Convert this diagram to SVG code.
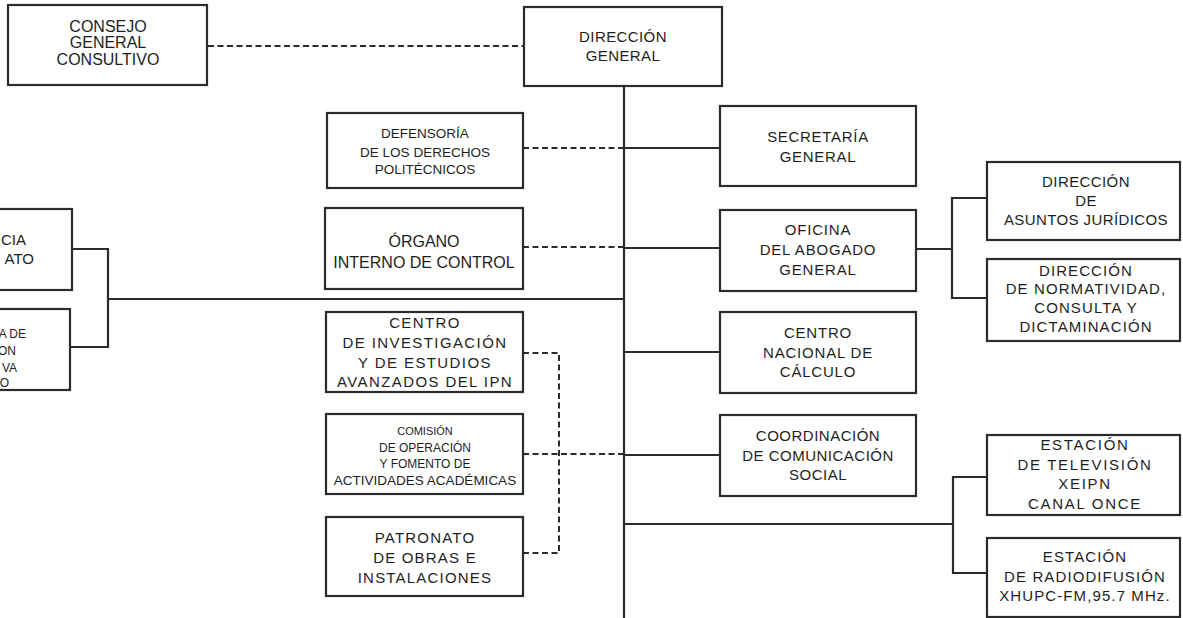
<svg xmlns="http://www.w3.org/2000/svg" width="1183" height="618" viewBox="0 0 1183 618">
<style>
.box{fill:#fff;stroke:#2b2b2b;stroke-width:2.2}
.ln{fill:none;stroke:#2b2b2b;stroke-width:2.2}
.dl{fill:none;stroke:#2b2b2b;stroke-width:2;stroke-dasharray:6 3.5}
text{font-family:"Liberation Sans",Arial,sans-serif;fill:#1e1e1e;text-anchor:middle;font-size:15px}
.s16{font-size:16px}
.s13{font-size:13.5px}
.s12{font-size:12px}
.s11{font-size:11px}
.e{text-anchor:end}
</style>
<rect width="1183" height="618" fill="#fff"/>
<g id="connectors">
  <line class="dl" x1="208" y1="46" x2="524" y2="46"/>
  <line class="ln" x1="624" y1="86" x2="624" y2="618"/>
  <polyline class="ln" points="72,249 108,249 108,347 70,347"/>
  <line class="ln" x1="108" y1="299" x2="624" y2="299"/>
  <line class="dl" x1="523" y1="148" x2="624" y2="148"/>
  <line class="ln" x1="624" y1="148" x2="720" y2="148"/>
  <line class="dl" x1="523" y1="247" x2="624" y2="247"/>
  <line class="ln" x1="624" y1="248" x2="720" y2="248"/>
  <line class="ln" x1="624" y1="352" x2="720" y2="352"/>
  <polyline class="dl" points="523,353 559,353 559,553 523,553"/>
  <line class="dl" x1="523" y1="454" x2="624" y2="454"/>
  <line class="ln" x1="624" y1="455" x2="720" y2="455"/>
  <line class="ln" x1="916" y1="249" x2="952" y2="249"/>
  <polyline class="ln" points="987,198 952,198 952,298 987,298"/>
  <line class="ln" x1="624" y1="524" x2="953" y2="524"/>
  <polyline class="ln" points="987,477 953,477 953,573 987,573"/>
</g>
<g id="consejo">
  <rect class="box" x="8" y="5" width="199" height="80"/>
  <text class="s16" x="108" y="32">CONSEJO</text>
  <text class="s16" x="108" y="48">GENERAL</text>
  <text class="s16" x="108" y="65">CONSULTIVO</text>
</g>
<g id="direccion-general">
  <rect class="box" x="524" y="7" width="198" height="79"/>
  <text x="623" y="42" style="letter-spacing:0.4px">DIRECCIÓN</text>
  <text x="623" y="61" style="letter-spacing:0.4px">GENERAL</text>
</g>
<g id="left-top">
  <rect class="box" x="-140" y="209" width="212" height="81"/>
  <text class="e" x="26" y="245">CIA</text>
  <text class="e" x="34" y="264">ATO</text>
</g>
<g id="left-bottom">
  <rect class="box" x="-140" y="309" width="210" height="81"/>
  <text class="e s12" x="26" y="338">A DE</text>
  <text class="e s12" x="16" y="355">ON</text>
  <text class="e s12" x="17" y="372">VA</text>
  <text class="e s12" x="9" y="387">O</text>
</g>
<g id="defensoria">
  <rect class="box" x="327" y="113" width="196" height="75"/>
  <text class="s13" x="425" y="138">DEFENSORÍA</text>
  <text class="s13" x="425" y="157">DE LOS DERECHOS</text>
  <text class="s13" x="425" y="174">POLITÉCNICOS</text>
</g>
<g id="organo">
  <rect class="box" x="325" y="208" width="198" height="81"/>
  <text class="s16" x="424" y="247">ÓRGANO</text>
  <text class="s16" x="424" y="268">INTERNO DE CONTROL</text>
</g>
<g id="cinvestav">
  <rect class="box" x="326" y="312" width="197" height="80"/>
  <g class="s16" style="letter-spacing:1.4px">
  <text x="425" y="328">CENTRO</text>
  <text x="425" y="348">DE INVESTIGACIÓN</text>
  <text x="425" y="368">Y DE ESTUDIOS</text>
  <text x="425" y="387">AVANZADOS DEL IPN</text>
  </g>
</g>
<g id="comision">
  <rect class="box" x="326" y="414" width="197" height="80"/>
  <text class="s11" x="425" y="435">COMISIÓN</text>
  <text class="s12" x="425" y="452">DE OPERACIÓN</text>
  <text class="s12" x="425" y="468">Y FOMENTO DE</text>
  <text class="s13" x="425" y="485">ACTIVIDADES ACADÉMICAS</text>
</g>
<g id="patronato">
  <rect class="box" x="326" y="517" width="197" height="79"/>
  <g class="s16" style="letter-spacing:1.2px">
  <text x="425" y="543">PATRONATO</text>
  <text x="425" y="563">DE OBRAS E</text>
  <text x="425" y="583">INSTALACIONES</text>
  </g>
</g>
<g id="secretaria">
  <rect class="box" x="720" y="106" width="196" height="80"/>
  <text x="818" y="142" style="letter-spacing:0.7px">SECRETARÍA</text>
  <text x="818" y="162" style="letter-spacing:0.7px">GENERAL</text>
</g>
<g id="abogado">
  <rect class="box" x="720" y="210" width="196" height="81"/>
  <g style="letter-spacing:0.8px">
  <text x="818" y="235">OFICINA</text>
  <text x="818" y="255">DEL ABOGADO</text>
  <text x="818" y="275">GENERAL</text>
  </g>
</g>
<g id="calculo">
  <rect class="box" x="720" y="312" width="196" height="81"/>
  <g style="letter-spacing:0.8px">
  <text x="818" y="338">CENTRO</text>
  <text x="818" y="358">NACIONAL DE</text>
  <text x="818" y="377">CÁLCULO</text>
  </g>
</g>
<g id="comunicacion">
  <rect class="box" x="720" y="415" width="196" height="81"/>
  <g style="letter-spacing:0.5px">
  <text x="818" y="441">COORDINACIÓN</text>
  <text x="818" y="461">DE COMUNICACIÓN</text>
  <text x="818" y="480">SOCIAL</text>
  </g>
</g>
<g id="juridicos">
  <rect class="box" x="987" y="162" width="193" height="78"/>
  <g style="letter-spacing:0.4px">
  <text x="1086" y="187">DIRECCIÓN</text>
  <text x="1086" y="206">DE</text>
  <text x="1086" y="225">ASUNTOS JURÍDICOS</text>
  </g>
</g>
<g id="normatividad">
  <rect class="box" x="987" y="259" width="193" height="82"/>
  <g style="letter-spacing:1.1px">
  <text x="1086" y="276">DIRECCIÓN</text>
  <text x="1086" y="294">DE NORMATIVIDAD,</text>
  <text x="1086" y="313">CONSULTA Y</text>
  <text x="1086" y="332">DICTAMINACIÓN</text>
  </g>
</g>
<g id="television">
  <rect class="box" x="987" y="435" width="193" height="80"/>
  <g style="letter-spacing:1.7px">
  <text x="1085" y="450">ESTACIÓN</text>
  <text x="1085" y="470">DE TELEVISIÓN</text>
  <text x="1085" y="489">XEIPN</text>
  <text x="1085" y="509">CANAL ONCE</text>
  </g>
</g>
<g id="radio">
  <rect class="box" x="987" y="538" width="193" height="79"/>
  <g style="letter-spacing:1.1px">
  <text x="1085" y="562">ESTACIÓN</text>
  <text x="1085" y="582">DE RADIODIFUSIÓN</text>
  <text x="1085" y="601">XHUPC-FM,95.7 MHz.</text>
  </g>
</g>
</svg>
